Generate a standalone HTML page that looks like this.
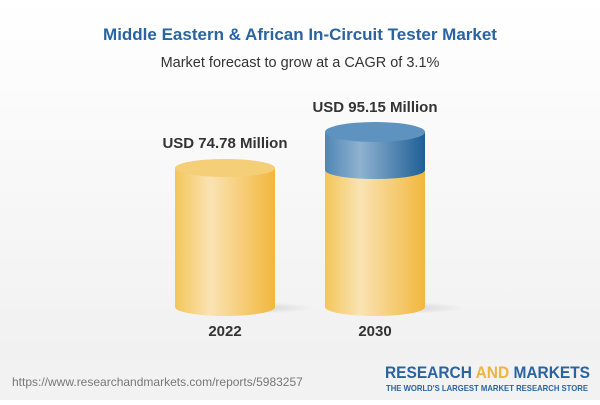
<!DOCTYPE html>
<html><head><style>
body{margin:0;width:600px;height:400px;overflow:hidden;background:#fff;font-family:"Liberation Sans",sans-serif;}
</style></head><body>
<svg width="600" height="400" xmlns="http://www.w3.org/2000/svg">
<defs>
<linearGradient id="y" x1="0" x2="1"><stop offset="0" stop-color="#f3c659"/><stop offset="0.35" stop-color="#fae3b3"/><stop offset="1" stop-color="#f1b73d"/></linearGradient>
<linearGradient id="b" x1="0" x2="1"><stop offset="0" stop-color="#4f86b6"/><stop offset="0.35" stop-color="#8fb2d0"/><stop offset="1" stop-color="#1f5f96"/></linearGradient>
<linearGradient id="bg" x1="0" y1="0" x2="0" y2="1"><stop offset="0" stop-color="#ffffff"/><stop offset="1" stop-color="#efefef"/></linearGradient>
<radialGradient id="sh"><stop offset="0" stop-color="#000" stop-opacity="0.15"/><stop offset="1" stop-color="#000" stop-opacity="0"/></radialGradient>
</defs>
<rect width="600" height="400" fill="url(#bg)"/>
<rect x="0" y="360" width="600" height="40" fill="#f2f2f2"/>
<text x="300" y="40" text-anchor="middle" font-size="17" font-weight="bold" fill="#2a64a0">Middle Eastern &amp; African In-Circuit Tester Market</text>
<text x="300" y="67" text-anchor="middle" font-size="14.5" fill="#333">Market forecast to grow at a CAGR of 3.1%</text>
<ellipse cx="245" cy="308" rx="70" ry="6" fill="url(#sh)"/>
<ellipse cx="395" cy="308" rx="70" ry="6" fill="url(#sh)"/>
<path d="M175 168 V307 A50 9 0 0 0 275 307 V168 Z" fill="url(#y)"/>
<ellipse cx="225" cy="168" rx="50" ry="9" fill="#f5cf77"/>
<path d="M325 170 V307 A50 9 0 0 0 425 307 V170 Z" fill="url(#y)"/>
<path d="M325 132 V170 A50 9 0 0 0 425 170 V132 Z" fill="url(#b)"/>
<ellipse cx="375" cy="132" rx="50" ry="10" fill="#5e92bf"/>
<text x="225" y="148" text-anchor="middle" font-size="15" font-weight="bold" fill="#333">USD 74.78 Million</text>
<text x="375" y="112" text-anchor="middle" font-size="15" font-weight="bold" fill="#333">USD 95.15 Million</text>
<text x="225" y="336" text-anchor="middle" font-size="15" font-weight="bold" fill="#333">2022</text>
<text x="375" y="336" text-anchor="middle" font-size="15" font-weight="bold" fill="#333">2030</text>
<text x="12" y="386" font-size="12" fill="#777">https://www.researchandmarkets.com/reports/5983257</text>
<text x="385" y="378" font-size="17" font-weight="bold" fill="#2a64a0" textLength="205" lengthAdjust="spacingAndGlyphs">RESEARCH <tspan fill="#f0b33c">AND</tspan> MARKETS</text>
<text x="386" y="391" font-size="8.5" font-weight="bold" fill="#2a64a0" textLength="202" lengthAdjust="spacingAndGlyphs">THE WORLD'S LARGEST MARKET RESEARCH STORE</text>
</svg>
</body></html>
